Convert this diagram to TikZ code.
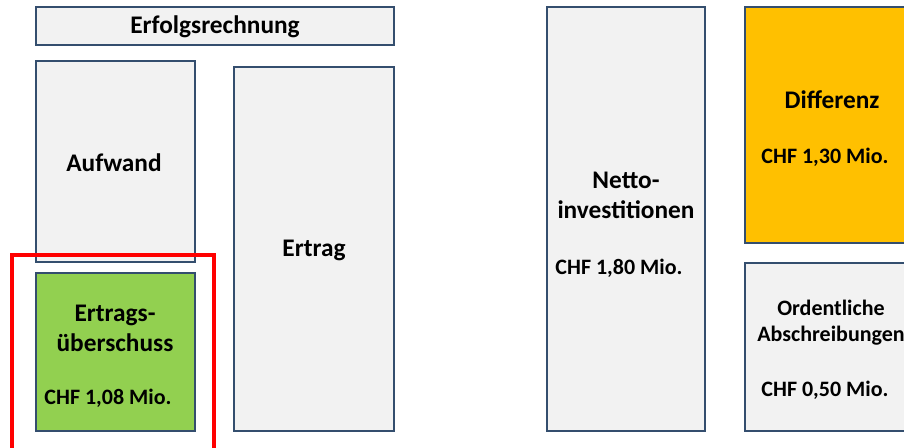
\documentclass[tikz,border=0pt]{standalone}
\usepackage{fontspec}
\setmainfont{Carlito}
\definecolor{rand}{HTML}{344E6E}
\definecolor{hell}{HTML}{F2F2F2}
\definecolor{gruen}{HTML}{92D050}
\definecolor{gelb}{HTML}{FFC000}
\tikzset{
	kasten/.style={draw=rand,line width=1.3pt,fill=hell,inner sep=0pt},
	titel/.style={font=\fontsize{19}{22.5}\selectfont\bfseries,align=center,inner sep=0pt},
	betrag/.style={font=\fontsize{16.5}{20}\selectfont\bfseries,align=center,inner sep=0pt},
}
\def\kasten#1#2#3#4#5#6{
	\node[kasten,fill=#6,minimum width={(#4-#2)*0.75pt},minimum height={(#5-#3)*0.75pt}] (#1) at ({(#2+#4)/2},{(#3+#5)/2}) {};
}
\begin{document}
\begin{tikzpicture}[x=0.75pt,y=-0.75pt]
\useasboundingbox (0,0) rectangle (904,447);
\clip (0,0) rectangle (904,447);
\kasten{erfolg}{36}{7}{394}{45}{hell}
\kasten{aufwand}{36}{61}{195}{262}{hell}
\kasten{ueberschuss}{36}{273}{195}{431}{gruen}
\kasten{ertrag}{234}{67}{394}{431}{hell}
\kasten{netto}{547}{7}{705}{431}{hell}
\kasten{differenz}{745}{7}{930}{243}{gelb}
\kasten{abschreibung}{745}{263}{930}{431}{hell}
\node[titel] (terfolg) at (215,27) {Erfolgsrechnung};
\node[titel] (taufwand) at (114,163) {Aufwand};
\node[titel] (tertrag) at (314,250) {Ertrag};
\node[titel] (tueberschuss) at (115,328) {Ertrags-\\überschuss};
\node[betrag] (bueberschuss) at (108,398) {CHF 1,08 Mio.};
\node[titel] (tnetto) at (626,195) {Netto-\\investitionen};
\node[betrag] (bnetto) at (619,268) {CHF 1,80 Mio.};
\node[titel] (tdifferenz) at (832,100) {Differenz};
\node[betrag] (bdifferenz) at (825,157) {CHF 1,30 Mio.};
\node[betrag,font=\fontsize{16.5}{19.5}\selectfont\bfseries] (tabschreibung) at (831,323) {Ordentliche\\Abschreibungen};
\node[betrag] (babschreibung) at (825,390) {CHF 0,50 Mio.};
\draw[red,line width=3pt] (11.5,470) |- (214,255) -- (214,470);
\end{tikzpicture}
\end{document}
